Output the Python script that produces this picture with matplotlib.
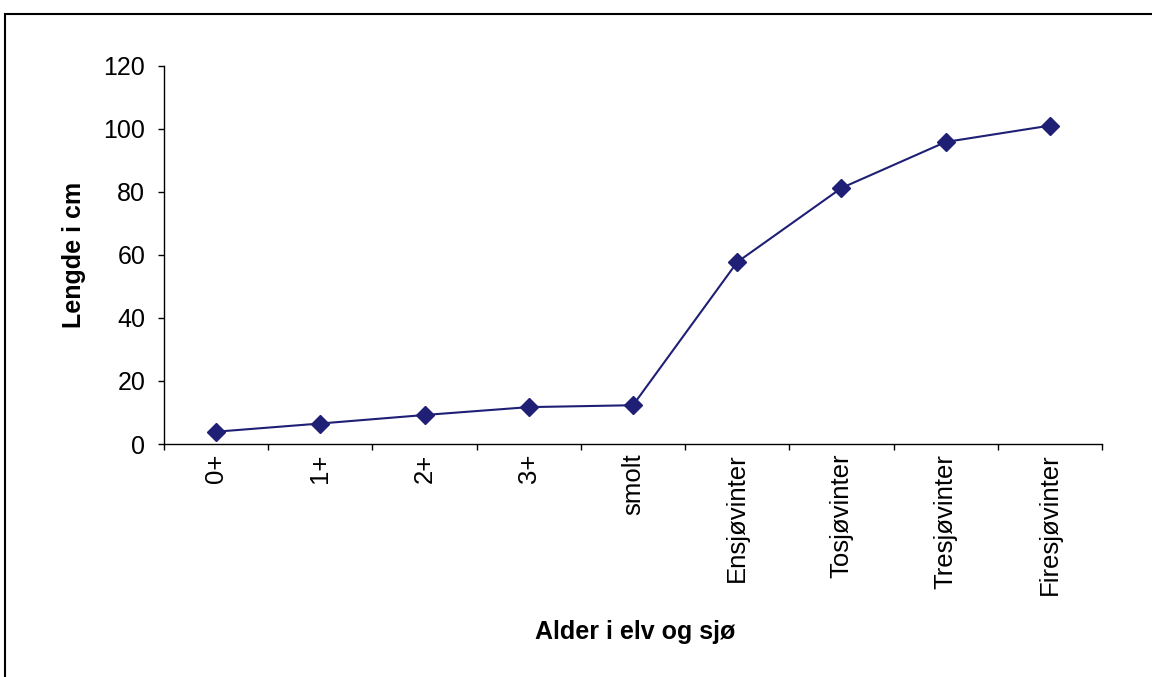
import numpy as np
import matplotlib
matplotlib.use("Agg")
import matplotlib.pyplot as plt
from matplotlib.patches import Rectangle

plt.rcParams['font.family'] = ['Liberation Sans', 'DejaVu Sans']

categories = ["0+", "1+", "2+", "3+", "smolt", "Ensjøvinter", "Tosjøvinter",
              "Tresjøvinter", "Firesjøvinter"]
lengths_cm = [3.9, 6.5, 9.2, 11.7, 12.3, 57.7, 81.2, 95.8, 101.0]
y_ticks = [0, 20, 40, 60, 80, 100, 120]

fig = plt.figure(figsize=(11.52, 6.77), dpi=100)
ax = fig.add_axes([164 / 1152, 1 - 444 / 677, (1102 - 164) / 1152, (444 - 65.7) / 677])

x = np.arange(len(categories))
ax.plot(x, lengths_cm, color="#1f1f75", linewidth=1.5, marker="D",
        markersize=9, markerfacecolor="#1f1f75", markeredgecolor="#1f1f75")

ax.set_xlim(-0.5, len(categories) - 0.5)
ax.set_ylim(0, 120)
ax.set_yticks(y_ticks)
ax.set_yticklabels([str(v) for v in y_ticks])

# category boundary ticks (unlabelled) and centred labels
ax.set_xticks(np.arange(-0.5, len(categories), 1.0))
ax.set_xticklabels([])
ax.set_xticks(x, minor=True)
ax.set_xticklabels(categories, minor=True, rotation=90, va="top", ha="center")
ax.tick_params(axis="x", which="major", direction="out", length=4.5, width=1)
ax.tick_params(axis="x", which="minor", length=0, pad=7, labelsize=18.5)
ax.tick_params(axis="y", direction="out", length=4.5, width=1, pad=9, labelsize=18)

for side in ("top", "right"):
    ax.spines[side].set_visible(False)
for side in ("left", "bottom"):
    ax.spines[side].set_linewidth(1)

ax.set_ylabel("Lengde i cm", fontsize=18, fontweight="bold")
ax.yaxis.set_label_coords((74 - 164) / 938, 0.5)
ax.yaxis.label.set_va("center")
fig.text(635 / 1152, 1 - 632 / 677, "Alder i elv og sjø", fontsize=18,
         fontweight="bold", ha="center", va="center")

# outer frame around the chart area
fig.patches.append(Rectangle((5 / 1152, -0.05), 1.2, 1 - 13.5 / 677 + 0.05,
                             transform=fig.transFigure, fill=False,
                             edgecolor="black", linewidth=1.5))

fig.savefig("out.png", dpi=100)
